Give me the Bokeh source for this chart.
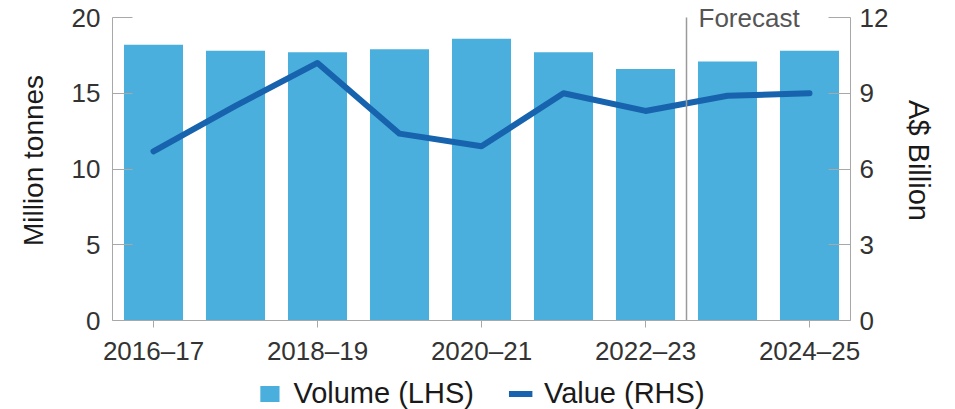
from bokeh.plotting import figure
from bokeh.layouts import column
from bokeh.models import Range1d, LinearAxis, FixedTicker, Legend, LegendItem, Label
from bokeh.embed import file_html
from bokeh.resources import INLINE

# ---- data ----
categories = ["2016–17", "2017–18", "2018–19", "2019–20", "2020–21",
              "2021–22", "2022–23", "2023–24", "2024–25"]
volume_mt = [18.2, 17.8, 17.7, 17.9, 18.6, 17.7, 16.6, 17.1, 17.8]   # LHS, million tonnes
value_bn = [6.7, 8.5, 10.2, 7.4, 6.9, 9.0, 8.3, 8.9, 9.0]            # RHS, A$ billion
left_ticks = [0, 5, 10, 15, 20]
right_ticks = [0, 3, 6, 9, 12]
forecast_from = "2023–24"
series_labels = ["Volume (LHS)", "Value (RHS)"]

FONT = "Liberation Sans"
BAR = "#4AAFDC"
LINE = "#1763AE"
AXIS = "#a8a8a8"

# frame is 320 px tall; axes occupy the lower 303 px (headroom for the "Forecast" note)
HEAD = 320 / 303

x = list(range(len(categories)))

p = figure(frame_width=738, frame_height=320,
           x_range=Range1d(-0.5, len(categories) - 0.5),
           y_range=Range1d(left_ticks[0], left_ticks[-1] * HEAD),
           output_backend="svg", toolbar_location=None,
           min_border_left=112, min_border_right=105,
           min_border_top=0, min_border_bottom=53)
p.extra_y_ranges = {"rhs": Range1d(right_ticks[0], right_ticks[-1] * HEAD)}
p.outline_line_color = None
p.xgrid.visible = False
p.ygrid.visible = False
p.background_fill_color = "white"
p.border_fill_color = "white"

bars = p.vbar(x=x, top=volume_mt, width=0.72, color=BAR, line_color=None)
line = p.line(x=x, y=value_bn, y_range_name="rhs", line_color=LINE, line_width=6,
              line_join="round", line_cap="round")

# forecast divider
fx = categories.index(forecast_from) - 0.5
p.segment(x0=[fx], y0=[left_ticks[0]], x1=[fx], y1=[left_ticks[-1]],
          line_color="#9a9a9a", line_width=1.5)
p.add_layout(Label(x=fx, y=left_ticks[-1], x_offset=12, y_offset=0, text="Forecast",
                   text_font=FONT, text_font_size="26px", text_color="#555555",
                   text_baseline="middle", text_align="left"))

# x axis
xa = p.xaxis[0]
xa.ticker = FixedTicker(ticks=x[::2])
xa.major_label_overrides = {i: categories[i] for i in x[::2]}
xa.minor_tick_line_color = None
xa.major_tick_in = 0
xa.major_tick_out = 7
xa.major_label_standoff = 8
xa.axis_line_color = AXIS
xa.major_tick_line_color = AXIS
xa.major_label_text_font = FONT
xa.major_label_text_font_size = "26px"
xa.major_label_text_color = "#333333"

# left axis
ya = p.yaxis[0]
ya.ticker = FixedTicker(ticks=left_ticks)
ya.bounds = (left_ticks[0], left_ticks[-1])
ya.minor_tick_line_color = None
ya.major_tick_in = 20
ya.major_tick_out = 0
ya.major_label_standoff = 12
ya.axis_line_color = AXIS
ya.major_tick_line_color = AXIS
ya.major_label_text_font = FONT
ya.major_label_text_font_size = "26px"
ya.major_label_text_color = "#333333"
ya.axis_label = "Million tonnes"
ya.axis_label_text_font = FONT
ya.axis_label_text_font_size = "28px"
ya.axis_label_text_font_style = "normal"
ya.axis_label_text_color = "#1a1a1a"
ya.axis_label_standoff = 20

# right axis
ra = LinearAxis(y_range_name="rhs", ticker=FixedTicker(ticks=right_ticks))
ra.bounds = (right_ticks[0], right_ticks[-1])
ra.minor_tick_line_color = None
ra.major_tick_in = 22
ra.major_tick_out = 0
ra.major_label_standoff = 9
ra.axis_line_color = AXIS
ra.major_tick_line_color = AXIS
ra.major_label_text_font = FONT
ra.major_label_text_font_size = "26px"
ra.major_label_text_color = "#333333"
ra.axis_label = "A$ Billion"
ra.axis_label_text_font = FONT
ra.axis_label_text_font_size = "29px"
ra.axis_label_text_font_style = "normal"
ra.axis_label_text_color = "#1a1a1a"
ra.axis_label_standoff = 12
p.add_layout(ra, "right")

# ---- legend strip (separate small figure under the chart) ----
lg = figure(frame_width=738, frame_height=36,
            x_range=Range1d(0, 1), y_range=Range1d(0, 1),
            output_backend="svg", toolbar_location=None,
            min_border_left=112, min_border_right=105,
            min_border_top=2, min_border_bottom=0)
lg.axis.visible = False
lg.grid.visible = False
lg.outline_line_color = None
lg.background_fill_color = "white"
lg.border_fill_color = "white"
# hidden stand-in renderers: they only supply the legend swatches
lbar = lg.vbar(x=x[:1], top=volume_mt[:1], width=0.5, color=BAR, line_color=None, visible=False)
lline = lg.line(x=x[:2], y=value_bn[:2], line_color=LINE, line_width=6, visible=False)

legend = Legend(items=[LegendItem(label=series_labels[0], renderers=[lbar]),
                       LegendItem(label=series_labels[1], renderers=[lline])],
                orientation="horizontal", location="center")
legend.border_line_color = None
legend.background_fill_alpha = 0
legend.inactive_fill_alpha = 0
legend.label_text_font = FONT
legend.label_text_font_size = "29px"
legend.label_text_color = "#1a1a1a"
legend.glyph_width = 24
legend.glyph_height = 20
legend.label_standoff = 12
legend.spacing = 34
legend.padding = 0
legend.margin = 0
lg.add_layout(legend, "center")

open("out.html", "w").write(file_html(column(p, lg, spacing=0), INLINE))
